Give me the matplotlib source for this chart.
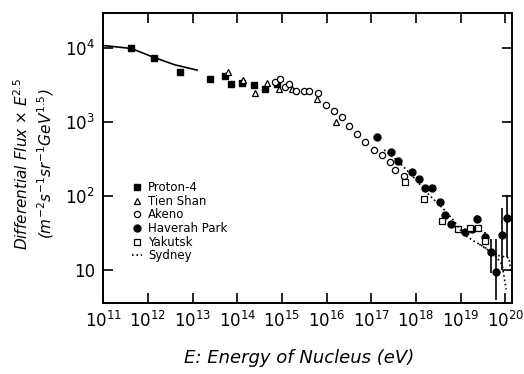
import numpy as np
import matplotlib.pyplot as plt

# energies in log10(eV), flux*E^2.5 in m^-2 s^-1 sr^-1 GeV^1.5
proton4_logE = np.array([11.63, 12.14, 12.72, 13.39, 13.72, 13.86, 14.10, 14.37, 14.62, 14.88])
proton4_flux = np.array([9800, 7330, 4740, 3800, 4170, 3250, 3370, 3160, 2800, 3250])

proton4_fit_logE = np.array([11.04, 11.63, 12.14, 12.60, 13.10])
proton4_fit_flux = np.array([10700, 9800, 7400, 5900, 5000])

tien_logE = np.array([13.79, 14.12, 14.39, 14.66, 14.93, 15.22, 15.78, 16.20])
tien_flux = np.array([4740, 3700, 2470, 3370, 2800, 2800, 2050, 1000])

akeno_logE = np.array([14.84, 14.95, 15.06, 15.15, 15.31, 15.49, 15.60, 15.80, 15.98, 16.16,
                       16.34, 16.51, 16.69, 16.87, 17.07, 17.23, 17.41, 17.54, 17.74])
akeno_flux = np.array([3470, 3800, 2950, 3240, 2630, 2570, 2570, 2450, 1700, 1410,
                       1170, 890, 690, 540, 420, 350, 290, 224, 182])

haverah_logE = np.array([17.12, 17.45, 17.61, 17.92, 18.08, 18.21, 18.37, 18.54, 18.66, 18.79,
                         19.10, 19.26, 19.37, 19.55, 19.68, 19.79, 19.93, 20.04])
haverah_flux = np.array([630, 390, 295, 209, 166, 129, 129, 83, 55, 41,
                         32, 35, 49, 28, 17.4, 9.3, 29.5, 50])
haverah_lo = np.array([0, 0, 0, 0, 0, 0, 0, 0, 0, 0,
                       0, 0, 6, 5, 8.3, 5.4, 19.5, 35])
haverah_hi = np.array([0, 0, 0, 0, 0, 0, 0, 0, 0, 0,
                       0, 0, 6, 4, 8.4, 16.4, 39.5, 52])

yakutsk_logE = np.array([17.76, 18.17, 18.59, 18.95, 19.21, 19.39, 19.55])
yakutsk_flux = np.array([155, 91, 46, 35, 37, 37, 24.5])

sydney_logE = np.array([17.29, 17.63, 17.96, 18.30, 18.63, 18.86, 19.08, 19.42, 19.71, 19.93, 20.02])
sydney_flux = np.array([417, 282, 174, 102, 65, 45, 29.5, 22, 17.4, 11.7, 5.4])
sydney_b_logE = np.array([19.42, 19.79, 20.08, 20.13])
sydney_b_flux = np.array([22, 15.8, 14.5, 9.3])

xtick_exp = list(range(11, 21))
ytick_vals = [10, 100, 1000, 10000]
ytick_labels = ['10', r'$10^2$', r'$10^3$', r'$10^4$']

plt.rcParams['mathtext.fontset'] = 'dejavusans'

fig = plt.figure(figsize=(5.24, 3.74), dpi=100)
ax = fig.add_axes([0.197, 0.19, 0.78, 0.775])

ax.plot(10**proton4_fit_logE, proton4_fit_flux, color='black', lw=1.2)
ax.plot(10**proton4_logE, proton4_flux, 's', color='black', ms=4.5, label='Proton-4')
ax.plot(10**tien_logE, tien_flux, '^', mfc='white', mec='black', mew=0.9, ms=5, label='Tien Shan')
ax.plot(10**akeno_logE, akeno_flux, 'o', mfc='white', mec='black', mew=0.9, ms=4.5, label='Akeno')
ax.errorbar(10**haverah_logE, haverah_flux, yerr=[haverah_lo, haverah_hi], fmt='none',
            ecolor='black', elinewidth=1.2, capsize=0)
ax.plot(10**haverah_logE, haverah_flux, 'o', color='black', ms=5, label='Haverah Park')
ax.plot(10**yakutsk_logE, yakutsk_flux, 's', mfc='white', mec='black', mew=0.9, ms=4.5, label='Yakutsk')
ax.plot(10**sydney_logE, sydney_flux, ':', color='black', lw=1.2, label='Sydney')
ax.plot(10**sydney_b_logE, sydney_b_flux, ':', color='black', lw=1.2)

ax.set_xscale('log')
ax.set_yscale('log')
ax.set_xlim(1e11, 10**20.15)
ax.set_ylim(10**0.55, 10**4.47)

ax.set_xticks([10.0**e for e in xtick_exp])
ax.set_xticklabels([r'$10^{%d}$' % e for e in xtick_exp])
ax.set_yticks(ytick_vals)
ax.set_yticklabels(ytick_labels)
ax.minorticks_off()
ax.tick_params(direction='in', length=7, width=1.2, top=True, right=True,
               labelsize=12, pad=6)
for s in ax.spines.values():
    s.set_linewidth(1.4)

ax.set_xlabel('E: Energy of Nucleus (eV)', fontsize=13, style='italic')
ax.xaxis.set_label_coords(0.48, -0.16)
ax.set_ylabel('Differential Flux × E$^{2.5}$\n'
              r'($m^{-2}s^{-1}sr^{-1}GeV^{1.5}$)', fontsize=11, style='italic',
              linespacing=1.25)
ax.yaxis.set_label_coords(-0.115, 0.48)

ax.legend(loc='lower left', bbox_to_anchor=(0.055, 0.12), frameon=False, fontsize=8.5,
          handlelength=0.9, handletextpad=0.5, labelspacing=0.05, borderpad=0)

fig.savefig('out.png', dpi=100)
